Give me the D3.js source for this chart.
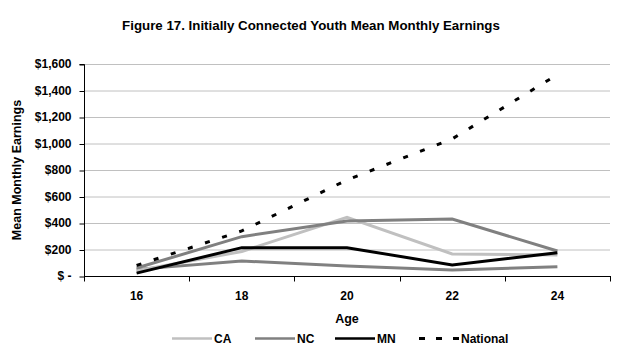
<!DOCTYPE html>
<html><head><meta charset="utf-8">
<script src="https://cdn.jsdelivr.net/npm/d3@7"></script>
<style>
html,body{margin:0;padding:0;background:#fff;}
text{font-family:"Liberation Sans",Arial,sans-serif;font-weight:bold;fill:#000;}
</style></head>
<body><svg id="c" width="624" height="360"></svg>
<script>
const ages = ["16","18","20","22","24"];
const yTicks = [0,200,400,600,800,1000,1200,1400,1600];
const caValues = [40,185,443,166,158];
const ncValues = [60,297,415,430,189];
const mnValues = [22,214,214,83,176];
const otherValues = [50,113,75,45,70];
const nationalValues = [80,340,725,1035,1520];
const seriesNames = ["CA","NC","MN","National"];

const series = [
  {name:"",values:otherValues,color:"#808080",dash:null,legend:false},
  {name:"CA",values:caValues,color:"#c0c0c0",dash:null,legend:true},
  {name:"NC",values:ncValues,color:"#808080",dash:null,legend:true},
  {name:"MN",values:mnValues,color:"#000000",dash:null,legend:true},
  {name:"National",values:nationalValues,color:"#000000",dash:"5,13",legend:true}
];

const svg = d3.select("#c");
const L=84,R=610,T=64,B=276;
const x = d3.scaleBand().domain(ages).range([L,R]).padding(0);
const y = d3.scaleLinear().domain([0,1600]).range([B,T]);

// title
svg.append("text").attr("x",311).attr("y",30).attr("text-anchor","middle")
  .style("font-size","13.3px").text("Figure 17. Initially Connected Youth Mean Monthly Earnings");

// gridlines
svg.append("g").selectAll("line").data(yTicks.filter(d=>d>0)).join("line")
  .attr("x1",L).attr("x2",R).attr("y1",d=>y(d)+0.5).attr("y2",d=>y(d)+0.5)
  .attr("stroke","#c0c0c0").attr("stroke-width",1);

// y axis
const fmt = d => d===0 ? "$ -" : "$" + d3.format(",")(d);
const ya = svg.append("g").attr("transform",`translate(${L+0.5},0)`)
  .call(d3.axisLeft(y).tickValues(yTicks).tickFormat(fmt).tickSize(5).tickPadding(8));
ya.select(".domain").attr("stroke","#000").attr("d",`M-5,${T+0.5}H0V${B+0.5}`);
ya.selectAll(".tick line").attr("stroke","#000").attr("transform","translate(0,0.5)");
ya.selectAll("text").style("font-size","12px").style("font-family",null).attr("fill","#000");

// x axis
const xa = svg.append("g").attr("transform",`translate(0,${B+0.5})`);
xa.append("line").attr("x1",L).attr("x2",R+1).attr("y1",0).attr("y2",0).attr("stroke","#000");
const bounds = ages.map(a=>x(a)).concat([R]);
xa.selectAll("line.t").data(bounds).join("line").attr("class","t")
  .attr("x1",d=>Math.round(d)+0.5).attr("x2",d=>Math.round(d)+0.5).attr("y1",0).attr("y2",5).attr("stroke","#000");
xa.selectAll("text.lbl").data(ages).join("text").attr("class","lbl")
  .attr("x",d=>x(d)+x.bandwidth()/2).attr("y",23).attr("text-anchor","middle")
  .style("font-size","12px").text(d=>d);

// axis titles
svg.append("text").attr("transform",`translate(21,${(T+B)/2}) rotate(-90)`).attr("text-anchor","middle")
  .style("font-size","12.5px").text("Mean Monthly Earnings");
svg.append("text").attr("x",347).attr("y",323).attr("text-anchor","middle")
  .style("font-size","12.5px").text("Age");

// lines
const line = d3.line().x((d,i)=>x(ages[i])+x.bandwidth()/2).y(d=>y(d));
svg.append("g").selectAll("path").data(series).join("path")
  .attr("d",d=>line(d.values)).attr("fill","none").attr("stroke",d=>d.color)
  .attr("stroke-width",3).attr("stroke-dasharray",d=>d.dash);

// legend
const legItems = series.filter(s=>s.legend);
const legX = [172,255,335,419];
const lg = svg.append("g");
legItems.forEach((s,i)=>{
  lg.append("line").attr("x1",legX[i]).attr("x2",legX[i]+40).attr("y1",338.5).attr("y2",338.5)
    .attr("stroke",s.color).attr("stroke-width",s.dash?3:2.5).attr("stroke-dasharray",s.dash?"6,11":null);
  lg.append("text").attr("x",legX[i]+42).attr("y",343).style("font-size","12px").text(s.name);
});
</script></body></html>
